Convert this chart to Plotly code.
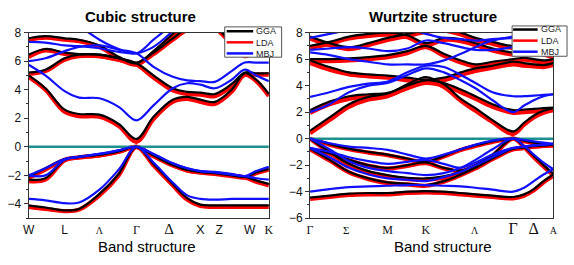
import plotly.graph_objects as go

# ---------------- data ----------------
# k-path sample positions (fraction of path length)
K_CUBIC = [0, 0.07, 0.15, 0.21, 0.295, 0.375, 0.449, 0.52, 0.60, 0.66, 0.715, 0.775, 0.845, 0.90, 0.947, 1.0]
K_WURTZ = [0, 0.08, 0.16, 0.24, 0.319, 0.40, 0.476, 0.55, 0.62, 0.68, 0.75, 0.835, 0.88, 0.92, 0.96, 1.0]

CUBIC_TICKS = [0, 0.15, 0.295, 0.449, 0.585, 0.715, 0.793, 0.92, 1.0]
CUBIC_LABELS = ["W", "L", "Λ", "Γ", "Δ", "X", "Z", "W", "K"]
WURTZ_TICKS = [0, 0.149, 0.319, 0.476, 0.677, 0.835, 0.919, 1.0]
WURTZ_LABELS = ["Γ", "Σ", "M", "K", "Λ", "Γ", "Δ", "A"]

ZERO_X = [0, 1]
ZERO_Y = [0, 0]

# Cubic structure, GGA (eV)
CUBIC_GGA_1 = [5.0, 4.1, 2.6, 2.3, 2.25, 1.6, 0.55, 2.1, 3.3, 3.5, 3.3, 3.15, 4.0, 5.15, 4.7, 3.7]
CUBIC_GGA_2 = [5.2, 5.4, 6.2, 6.45, 6.45, 6.2, 5.85, 5.0, 4.1, 3.85, 3.8, 3.7, 4.4, 5.2, 5.15, 5.15]
CUBIC_GGA_3 = [6.45, 6.85, 6.6, 6.5, 6.45, 6.2, 5.9, 6.6, 7.6, 8.3, 8.6, 8.4, 7.3, 6.45, 6.9, 7.5]
CUBIC_GGA_4 = [7.6, 7.75, 7.6, 7.5, 7.1, 6.3, 5.85, 6.7, 7.9, 8.8, 9.3, 9.3, 9.3, 9.3, 9.3, 9.3]
CUBIC_GGA_V1 = [-2.1, -1.5, -0.85, -0.7, -0.55, -0.3, 0, -0.6, -1.25, -1.6, -1.75, -1.8, -1.95, -2.1, -2.35, -2.6]
CUBIC_GGA_V2 = [-2.3, -2.2, -0.9, -0.7, -0.55, -0.3, 0, -0.6, -1.25, -1.6, -1.75, -1.85, -2.0, -2.1, -1.8, -1.55]
CUBIC_GGA_V3 = [-4.1, -4.25, -4.45, -4.35, -3.3, -1.9, 0, -1.2, -2.6, -3.6, -4.05, -4.1, -4.1, -4.1, -4.1, -4.1]

# Cubic structure, LDA
CUBIC_LDA_1 = [4.9, 4.0, 2.45, 2.15, 2.1, 1.45, 0.35, 1.95, 3.15, 3.35, 3.15, 3.0, 3.85, 5.05, 4.6, 3.55]
CUBIC_LDA_2 = [5.1, 5.3, 6.1, 6.35, 6.35, 6.1, 5.75, 4.85, 3.95, 3.7, 3.65, 3.55, 4.25, 5.05, 5.05, 5.05]
CUBIC_LDA_3 = [6.3, 6.75, 6.5, 6.4, 6.35, 6.1, 5.8, 6.5, 7.5, 8.2, 8.5, 8.3, 7.2, 6.35, 6.8, 7.4]
CUBIC_LDA_4 = [7.5, 7.65, 7.5, 7.4, 7.0, 6.2, 5.75, 6.6, 7.8, 8.7, 9.2, 9.2, 9.2, 9.2, 9.2, 9.2]
CUBIC_LDA_V1 = [-2.2, -1.6, -0.9, -0.75, -0.6, -0.35, 0, -0.65, -1.3, -1.65, -1.8, -1.85, -2.0, -2.15, -2.45, -2.7]
CUBIC_LDA_V2 = [-2.4, -2.3, -0.95, -0.75, -0.6, -0.35, 0, -0.65, -1.3, -1.65, -1.8, -1.9, -2.05, -2.15, -1.85, -1.6]
CUBIC_LDA_V3 = [-4.2, -4.35, -4.5, -4.4, -3.4, -2.0, 0, -1.3, -2.7, -3.7, -4.15, -4.2, -4.2, -4.2, -4.2, -4.2]

# Cubic structure, MBJ
CUBIC_MBJ_1 = [5.75, 5.0, 3.9, 3.45, 3.4, 2.8, 1.85, 2.9, 4.1, 4.45, 4.35, 4.1, 4.7, 5.4, 5.0, 4.6]
CUBIC_MBJ_2 = [6.0, 6.2, 6.7, 7.0, 7.1, 6.8, 6.55, 5.6, 4.9, 4.65, 4.6, 4.55, 5.3, 5.9, 5.9, 5.9]
CUBIC_MBJ_3 = [7.35, 7.3, 7.1, 7.05, 6.9, 6.65, 6.55, 7.0, 8.1, 9.0, 9.3, 9.3, 9.3, 9.3, 9.3, 9.3]
CUBIC_MBJ_4 = [9.5, 9.5, 9.3, 8.5, 7.5, 6.85, 6.55, 7.5, 8.6, 9.5, 9.5, 9.5, 9.5, 9.5, 9.5, 9.5]
CUBIC_MBJ_V1 = [-2.0, -1.5, -0.85, -0.7, -0.5, -0.25, 0, -0.5, -1.15, -1.5, -1.7, -1.75, -1.9, -2.05, -1.7, -1.4]
CUBIC_MBJ_V2 = [-2.0, -2.0, -0.9, -0.7, -0.5, -0.25, 0, -0.5, -1.15, -1.5, -1.7, -1.8, -1.95, -2.05, -2.2, -2.3]
CUBIC_MBJ_V3 = [-3.65, -3.75, -3.95, -3.9, -3.0, -1.6, 0, -1.1, -2.5, -3.4, -3.65, -3.7, -3.65, -3.65, -3.65, -3.65]

# Wurtzite structure, GGA
WURTZ_GGA_1 = [0.6, 1.6, 2.6, 3.15, 3.4, 4.1, 4.65, 4.1, 3.0, 2.3, 1.4, 0.55, 1.2, 1.75, 2.1, 2.3]
WURTZ_GGA_2 = [2.15, 2.8, 3.2, 3.35, 3.45, 4.0, 4.4, 4.2, 3.7, 3.2, 2.6, 2.15, 2.2, 2.25, 2.3, 2.35]
WURTZ_GGA_3 = [5.9, 5.4, 5.0, 4.85, 4.75, 4.6, 4.45, 4.6, 5.0, 5.3, 5.5, 5.8, 5.7, 5.6, 5.55, 5.7]
WURTZ_GGA_4 = [6.0, 6.0, 6.05, 6.15, 6.3, 6.6, 7.0, 6.4, 5.9, 5.6, 5.8, 6.0, 6.1, 6.0, 5.9, 6.0]
WURTZ_GGA_5 = [7.0, 7.3, 7.7, 7.9, 8.0, 7.8, 7.2, 7.6, 7.5, 7.2, 6.8, 6.5, 6.6, 6.7, 6.5, 6.3]
WURTZ_GGA_6 = [7.7, 7.2, 6.9, 7.2, 7.6, 7.9, 8.2, 8.3, 8.0, 7.6, 7.3, 7.0, 7.3, 7.6, 7.9, 8.1]
WURTZ_GGA_V1 = [0, -1.0, -1.9, -2.45, -2.75, -2.95, -3.0, -2.85, -2.5, -2.0, -1.2, 0, -0.6, -1.3, -2.0, -2.65]
WURTZ_GGA_V2 = [0, -0.4, -0.75, -1.0, -1.2, -1.5, -1.75, -1.3, -0.8, -0.5, -0.2, 0, -0.15, -0.3, -0.4, -0.45]
WURTZ_GGA_V3 = [-0.75, -1.1, -1.6, -2.0, -2.2, -2.0, -1.8, -2.2, -2.4, -2.0, -1.3, -0.75, -0.65, -0.55, -0.5, -0.45]
WURTZ_GGA_V4 = [-0.75, -1.6, -2.5, -3.0, -3.3, -3.4, -3.5, -3.2, -2.7, -2.2, -1.5, -0.75, -0.65, -0.55, -0.5, -0.45]
WURTZ_GGA_V5 = [-4.45, -4.3, -4.15, -4.1, -4.1, -4.0, -3.95, -4.0, -4.1, -4.2, -4.3, -4.4, -4.2, -3.8, -3.2, -2.7]

# Wurtzite structure, LDA
WURTZ_LDA_1 = [0.4, 1.4, 2.4, 2.95, 3.2, 3.9, 4.4, 3.9, 2.85, 2.1, 1.25, 0.35, 1.05, 1.6, 1.95, 2.15]
WURTZ_LDA_2 = [1.95, 2.6, 3.0, 3.15, 3.25, 3.8, 4.2, 4.0, 3.5, 3.0, 2.4, 1.95, 2.0, 2.05, 2.15, 2.2]
WURTZ_LDA_3 = [5.7, 5.2, 4.85, 4.7, 4.6, 4.4, 4.25, 4.4, 4.8, 5.1, 5.35, 5.6, 5.5, 5.45, 5.4, 5.55]
WURTZ_LDA_4 = [5.85, 5.85, 5.9, 6.0, 6.15, 6.45, 6.9, 6.25, 5.75, 5.45, 5.65, 5.85, 5.95, 5.85, 5.75, 5.85]
WURTZ_LDA_5 = [6.85, 7.15, 7.55, 7.75, 7.85, 7.65, 7.05, 7.45, 7.35, 7.05, 6.65, 6.35, 6.45, 6.55, 6.35, 6.15]
WURTZ_LDA_6 = [7.55, 7.05, 6.75, 7.05, 7.45, 7.75, 8.05, 8.15, 7.85, 7.45, 7.15, 6.85, 7.15, 7.45, 7.75, 7.95]
WURTZ_LDA_V1 = [0, -1.05, -2.0, -2.55, -2.85, -3.05, -3.1, -2.95, -2.6, -2.1, -1.3, 0, -0.65, -1.4, -2.1, -2.75]
WURTZ_LDA_V2 = [0, -0.45, -0.8, -1.05, -1.25, -1.55, -1.8, -1.35, -0.85, -0.55, -0.25, 0, -0.2, -0.35, -0.45, -0.5]
WURTZ_LDA_V3 = [-0.8, -1.15, -1.65, -2.05, -2.25, -2.05, -1.85, -2.25, -2.45, -2.05, -1.35, -0.8, -0.7, -0.6, -0.55, -0.5]
WURTZ_LDA_V4 = [-0.8, -1.65, -2.55, -3.05, -3.35, -3.45, -3.55, -3.25, -2.75, -2.25, -1.55, -0.8, -0.7, -0.6, -0.55, -0.5]
WURTZ_LDA_V5 = [-4.55, -4.4, -4.25, -4.2, -4.2, -4.1, -4.05, -4.1, -4.2, -4.3, -4.4, -4.5, -4.3, -3.9, -3.3, -2.8]

# Wurtzite structure, MBJ
WURTZ_MBJ_1 = [2.0, 2.6, 3.5, 4.0, 4.2, 4.8, 5.3, 5.0, 4.4, 3.8, 2.9, 2.0, 2.5, 2.9, 3.2, 3.35]
WURTZ_MBJ_2 = [3.15, 3.5, 3.9, 4.15, 4.3, 5.0, 5.5, 5.4, 4.8, 4.2, 3.5, 3.2, 3.2, 3.25, 3.3, 3.35]
WURTZ_MBJ_3 = [6.5, 6.3, 6.0, 5.8, 5.6, 5.6, 5.6, 5.9, 6.4, 6.9, 7.4, 7.7, 7.8, 7.9, 8.0, 8.1]
WURTZ_MBJ_4 = [6.7, 6.8, 6.9, 6.8, 6.6, 6.8, 7.4, 7.2, 6.9, 6.7, 6.7, 6.9, 7.0, 7.0, 6.9, 6.8]
WURTZ_MBJ_5 = [7.6, 7.9, 8.2, 8.5, 8.5, 8.3, 7.9, 7.6, 7.5, 7.4, 7.5, 7.6, 7.7, 7.6, 7.5, 7.4]
WURTZ_MBJ_V1 = [0, -0.35, -0.6, -0.7, -0.85, -1.2, -1.5, -1.2, -0.8, -0.45, -0.15, 0, -0.1, -0.2, -0.3, -0.4]
WURTZ_MBJ_V2 = [0, -0.8, -1.7, -2.2, -2.45, -2.6, -2.75, -2.6, -2.2, -1.6, -0.8, 0, -0.55, -1.2, -1.8, -2.3]
WURTZ_MBJ_V3 = [-0.7, -1.0, -1.4, -1.7, -1.9, -1.75, -1.6, -1.9, -2.2, -1.8, -1.2, -0.7, -0.6, -0.5, -0.45, -0.4]
WURTZ_MBJ_V4 = [-0.7, -1.4, -2.2, -2.7, -3.0, -3.1, -3.2, -2.9, -2.5, -2.0, -1.4, -0.7, -0.6, -0.5, -0.45, -0.4]
WURTZ_MBJ_V5 = [-4.0, -3.8, -3.65, -3.6, -3.55, -3.5, -3.5, -3.55, -3.6, -3.7, -3.85, -4.0, -3.7, -3.2, -2.7, -2.3]

SERIES_NAMES = ["GGA", "LDA", "MBJ"]

CUBIC_BANDS = {
    "GGA": [CUBIC_GGA_1, CUBIC_GGA_2, CUBIC_GGA_3, CUBIC_GGA_4, CUBIC_GGA_V1, CUBIC_GGA_V2, CUBIC_GGA_V3],
    "LDA": [CUBIC_LDA_1, CUBIC_LDA_2, CUBIC_LDA_3, CUBIC_LDA_4, CUBIC_LDA_V1, CUBIC_LDA_V2, CUBIC_LDA_V3],
    "MBJ": [CUBIC_MBJ_1, CUBIC_MBJ_2, CUBIC_MBJ_3, CUBIC_MBJ_4, CUBIC_MBJ_V1, CUBIC_MBJ_V2, CUBIC_MBJ_V3],
}
WURTZ_BANDS = {
    "GGA": [WURTZ_GGA_1, WURTZ_GGA_2, WURTZ_GGA_3, WURTZ_GGA_4, WURTZ_GGA_5, WURTZ_GGA_6,
            WURTZ_GGA_V1, WURTZ_GGA_V2, WURTZ_GGA_V3, WURTZ_GGA_V4, WURTZ_GGA_V5],
    "LDA": [WURTZ_LDA_1, WURTZ_LDA_2, WURTZ_LDA_3, WURTZ_LDA_4, WURTZ_LDA_5, WURTZ_LDA_6,
            WURTZ_LDA_V1, WURTZ_LDA_V2, WURTZ_LDA_V3, WURTZ_LDA_V4, WURTZ_LDA_V5],
    "MBJ": [WURTZ_MBJ_1, WURTZ_MBJ_2, WURTZ_MBJ_3, WURTZ_MBJ_4, WURTZ_MBJ_5,
            WURTZ_MBJ_V1, WURTZ_MBJ_V2, WURTZ_MBJ_V3, WURTZ_MBJ_V4, WURTZ_MBJ_V5],
}

# ---------------- styling ----------------
W, H = 574, 265
COLORS = {"GGA": "#000000", "LDA": "#ff0000", "MBJ": "#1010ff"}
WIDTHS = {"GGA": 2.2, "LDA": 4.2, "MBJ": 2.2}
ZERO_COLOR = "#1f8f8f"
SANS = "Arial, Liberation Sans, sans-serif"
SERIF = "Times New Roman, Liberation Serif, serif"
LEGEND_FONT = 9
LEGEND_STEP = 1.3 * LEGEND_FONT  # px between legend rows (matches text line height)

CUBIC_LABEL_STYLE = [(SANS, 12), (SANS, 12), (SERIF, 10), (SERIF, 12), (SERIF, 15),
                     (SANS, 13), (SANS, 12), (SANS, 12), (SERIF, 12)]
WURTZ_LABEL_STYLE = [(SERIF, 12), (SERIF, 11), (SERIF, 12), (SERIF, 12), (SERIF, 10),
                     (SERIF, 16), (SERIF, 16), (SERIF, 10)]


def styled(labels, styles):
    out = []
    for lab, (fam, size) in zip(labels, styles):
        out.append(f'<span style="font-family:{fam}; font-size:{size}px">{lab}</span>')
    return out


def px_x(p):
    return p / W


def px_y(p):
    return 1 - p / H


fig = go.Figure()


def add_panel(bands, ks, xa, ya):
    for name in ["LDA", "GGA"]:
        for b in bands[name]:
            fig.add_trace(go.Scatter(
                x=ks, y=b, mode="lines", xaxis=xa, yaxis=ya,
                line=dict(color=COLORS[name], width=WIDTHS[name], shape="spline", smoothing=1.0),
                showlegend=False, hoverinfo="skip"))
    fig.add_trace(go.Scatter(
        x=ZERO_X, y=ZERO_Y, mode="lines", xaxis=xa, yaxis=ya,
        line=dict(color=ZERO_COLOR, width=2.5), showlegend=False, hoverinfo="skip"))
    for b in bands["MBJ"]:
        fig.add_trace(go.Scatter(
            x=ks, y=b, mode="lines", xaxis=xa, yaxis=ya,
            line=dict(color=COLORS["MBJ"], width=WIDTHS["MBJ"], shape="spline", smoothing=1.0),
            showlegend=False, hoverinfo="skip"))


add_panel(CUBIC_BANDS, K_CUBIC, "x", "y")
add_panel(WURTZ_BANDS, K_WURTZ, "x2", "y2")

ydom = [px_y(223), px_y(27)]
axis_common = dict(showgrid=False, zeroline=False, showline=True, linecolor="#333333",
                   linewidth=1, mirror=True)
yaxis_common = dict(axis_common, dtick=2, ticks="outside", ticklen=4, tickcolor="#333333",
                    tickfont=dict(family=SANS, size=12, color="#111111"),
                    minor=dict(dtick=1, ticks="outside", ticklen=2, tickcolor="#333333"))

fig.update_layout(
    width=W, height=H, autosize=False,
    margin=dict(l=0, r=0, t=0, b=0),
    paper_bgcolor="white", plot_bgcolor="white",
    showlegend=False,
    xaxis=dict(axis_common, domain=[px_x(23), px_x(268)], range=[0, 1], anchor="y",
               tickvals=CUBIC_TICKS, ticktext=styled(CUBIC_LABELS, CUBIC_LABEL_STYLE),
               ticks="", tickfont=dict(family=SANS, size=12, color="#111111")),
    yaxis=dict(yaxis_common, domain=ydom, range=[-5, 8], anchor="x"),
    xaxis2=dict(axis_common, domain=[px_x(310), px_x(558)], range=[0, 1], anchor="y2",
                tickvals=WURTZ_TICKS, ticktext=styled(WURTZ_LABELS, WURTZ_LABEL_STYLE),
                ticks="", tickfont=dict(family=SERIF, size=12, color="#111111")),
    yaxis2=dict(yaxis_common, domain=ydom, range=[-6, 8], anchor="x2"),
)

annotations = []
shapes = []
# panel titles
for text, cx in [("Cubic structure", 137), ("Wurtzite structure", 435)]:
    annotations.append(dict(text=f"<b>{text}</b>", x=px_x(cx), y=px_y(10), xref="paper", yref="paper",
                            showarrow=False, xanchor="center", yanchor="middle",
                            font=dict(family=SANS, size=15, color="#000000")))
for cx in [144, 446]:
    annotations.append(dict(text="Band structure", x=px_x(cx), y=px_y(253), xref="paper", yref="paper",
                            showarrow=False, xanchor="center", yanchor="middle",
                            font=dict(family=SANS, size=15, color="#000000")))

# hand-drawn legends (one per panel): box, line segment span, centre row y, text x
legend_boxes = [
    dict(box=(223, 21, 281, 53), line_x=(225, 252), mid=37.3, text_x=254),
    dict(box=(516, 20, 572, 52), line_x=(517, 542), mid=35.5, text_x=544),
]
for lg in legend_boxes:
    x0, y0, x1, y1 = lg["box"]
    shapes.append(dict(type="rect", xref="paper", yref="paper",
                       x0=px_x(x0), x1=px_x(x1), y0=px_y(y1), y1=px_y(y0),
                       line=dict(color="#555555", width=1), fillcolor="white", layer="above"))
    for i, name in enumerate(SERIES_NAMES):
        yy = lg["mid"] + (i - 1) * LEGEND_STEP
        shapes.append(dict(type="line", xref="paper", yref="paper",
                           x0=px_x(lg["line_x"][0]), x1=px_x(lg["line_x"][1]),
                           y0=px_y(yy), y1=px_y(yy),
                           line=dict(color=COLORS[name], width=2.5), layer="above"))
    annotations.append(dict(text="<br>".join(SERIES_NAMES), x=px_x(lg["text_x"]), y=px_y(lg["mid"]),
                            xref="paper", yref="paper", showarrow=False, align="left",
                            xanchor="left", yanchor="middle", borderpad=0,
                            font=dict(family=SANS, size=LEGEND_FONT, color="#222222")))

fig.update_layout(annotations=annotations, shapes=shapes)
fig.write_html("out.html", config={"displayModeBar": False},
               post_script="document.body.style.margin='0';document.body.style.padding='0';")
